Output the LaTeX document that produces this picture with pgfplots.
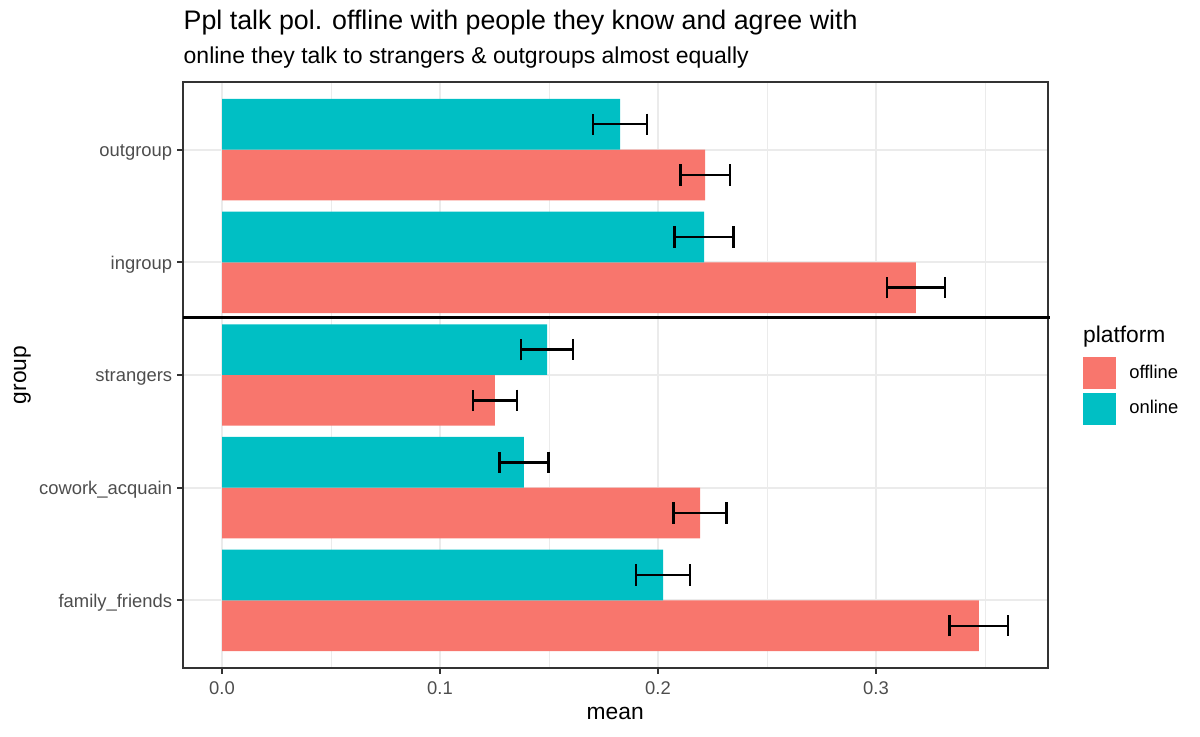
\documentclass[border=0pt]{standalone}
\usepackage{pgfplots}
\usepackage{pgfplotstable}
\pgfplotsset{compat=1.18}
\usepackage{fontspec}
\setmainfont{Liberation Sans}

\definecolor{offc}{HTML}{F8766D}
\definecolor{onc}{HTML}{00BFC4}
\definecolor{grid92}{HTML}{EBEBEB}
\definecolor{g20}{HTML}{333333}
\definecolor{g30}{HTML}{4D4D4D}

% y: 1 family_friends ... 5 outgroup
\pgfplotstableread{
y   x       e
1   0.3472  0.0134
2   0.2193  0.0122
3   0.1252  0.0101
4   0.3183  0.0133
5   0.2216  0.0113
}\offline
\pgfplotstableread{
y   x       e
1   0.2023  0.0124
2   0.1385  0.0112
3   0.1491  0.0119
4   0.2211  0.0135
5   0.1826  0.0124
}\online

\begin{document}
\begin{tikzpicture}
\path[use as bounding box] (-91.35pt,-34.5pt) rectangle (508.65pt,334pt);
\begin{axis}[
  at={(0,0)}, anchor=south west,
  width=432.5pt, height=293pt, scale only axis,
  xmin=-0.01803, xmax=0.37876, ymin=0.4, ymax=5.6,
  ytick={1,2,3,4,5},
  yticklabels={family\_friends,cowork\_acquain,strangers,ingroup,outgroup},
  xtick={0,0.1,0.2,0.3},
  xticklabels={0.0,0.1,0.2,0.3},
  minor xtick={0.05,0.15,0.25,0.35},
  xmajorgrids, xminorgrids, ymajorgrids,
  major grid style={grid92, line width=1pt},
  minor grid style={grid92, line width=0.5pt},
  axis line style={g20, line width=0.9pt},
  tick align=outside, tick pos=left,
  major tick length=2.8pt, minor tick length=0pt,
  tick style={g20, line width=1pt},
  ticklabel style={font=\fontsize{9.2}{11}\selectfont, text=g30},
  xticklabel style={anchor=base, inner sep=0pt, yshift=-10.4pt},
  yticklabel style={anchor=base east, inner sep=0pt, xshift=-2.3pt, yshift=-3.5pt},
  legend style={at={(axis description cs:1.0405,0.5302)}, anchor=north west,
    draw=none, fill=none, inner sep=0pt, outer sep=0pt, row sep=1.7pt,
    column sep=6.8pt, font=\fontsize{9.2}{11}\selectfont,
    nodes={inner sep=0pt, anchor=west}},
  clip=false,
]
\addplot[xbar, bar width=0.45, bar shift=-0.225, fill=offc, draw=none,
  legend image code/.code={\fill[offc] (0pt,-8pt) rectangle (16.5pt,8pt);}]
  table[x=x, y=y] {\offline};
\addlegendentry{offline}
\addplot[xbar, bar width=0.45, bar shift=0.225, fill=onc, draw=none,
  legend image code/.code={\fill[onc] (0pt,-8pt) rectangle (16.5pt,8pt);}]
  table[x=x, y=y] {\online};
\addlegendentry{online}
% error bars, dodged to the bar centres
\addplot[draw=none, mark=none, forget plot,
  error bars/.cd, x dir=both, x explicit, error mark=|,
  error bar style={black, line width=1.2pt},
  error mark options={black, line width=1.2pt, mark size=5.33pt}]
  table[x=x, y expr=\thisrow{y}-0.225, x error=e] {\offline};
\addplot[draw=none, mark=none, forget plot,
  error bars/.cd, x dir=both, x explicit, error mark=|,
  error bar style={black, line width=1.2pt},
  error mark options={black, line width=1.2pt, mark size=5.33pt}]
  table[x=x, y expr=\thisrow{y}+0.225, x error=e] {\online};
\addplot[sharp plot, black, line width=1.3pt, forget plot]
  coordinates {(-0.01803,3.51) (0.3798,3.51)};
\end{axis}
\node[anchor=base west, inner sep=0pt] at (0.3pt,319pt)
  {\fontsize{13.4}{16}\selectfont Ppl talk pol. offline with people they know and agree with};
\node[anchor=base west, inner sep=0pt] at (0.3pt,302pt)
  {\fontsize{11.5}{14}\selectfont online they talk to strangers \& outgroups almost equally};
\node[anchor=base, inner sep=0pt] at (216.25pt,-26pt)
  {\fontsize{11.4}{14}\selectfont mean};
\node[anchor=base, inner sep=0pt, rotate=90] at (-78.3pt,146.5pt)
  {\fontsize{11.4}{14}\selectfont group};
\node[anchor=base west, inner sep=0pt] at (450pt,162.65pt)
  {\fontsize{11.4}{14}\selectfont platform};
\end{tikzpicture}
\end{document}
